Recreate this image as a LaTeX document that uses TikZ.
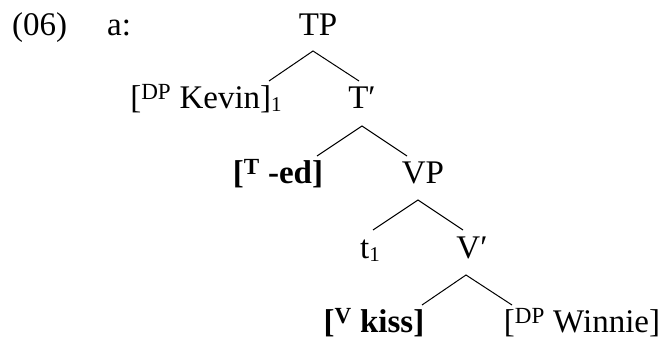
\documentclass[tikz,border=0pt]{standalone}
\usepackage{fontspec}
\setmainfont{Liberation Serif}
\usepackage{tikz}
\newcommand{\idx}[1]{\raisebox{-0.08em}{\fontsize{21}{21}\selectfont #1}}

\begin{document}
\begin{tikzpicture}[
  x=1pt, y=1pt,
  lab/.style={inner sep=0pt, anchor=base, font=\fontsize{33}{38}\selectfont},
  branch/.style={line width=1pt}
]
\useasboundingbox (0,0) rectangle (668,339);
\node[lab, anchor=base west] (num) at (12,303) {(06)};
\node[lab, anchor=base west] (ex) at (107,303) {a:};
% tree
\node[lab] (tp) at (318,303) {TP};
\node[lab] (kevin) at (206,230) {[\textsuperscript{DP} Kevin]\idx{1}};
\node[lab] (tbar) at (362,230) {T′};
\node[lab] (ed) at (278,155) {\textbf{[\textsuperscript{T} -ed]}};
\node[lab] (vp) at (423,155) {VP};
\node[lab] (t1) at (370,80) {t\idx{1}};
\node[lab] (vbar) at (472,80) {V′};
\node[lab] (kiss) at (374,6) {\textbf{[\textsuperscript{V} kiss]}};
\node[lab] (winnie) at (582,6) {[\textsuperscript{DP} Winnie]};
\draw[branch] ([shift={(63,28)}]kevin.base) -- ([shift={(-5,-15)}]tp.base) -- ([shift={(-3,28)}]tbar.base);
\draw[branch] ([shift={(39,28)}]ed.base) -- ([shift={(0,-17)}]tbar.base) -- ([shift={(-16,28)}]vp.base);
\draw[branch] ([shift={(3,29)}]t1.base) -- ([shift={(-5,-16)}]vp.base) -- ([shift={(-9,29)}]vbar.base);
\draw[branch] ([shift={(48,28)}]kiss.base) -- ([shift={(-6,-16)}]vbar.base) -- ([shift={(-70,28)}]winnie.base);
\end{tikzpicture}
\end{document}
